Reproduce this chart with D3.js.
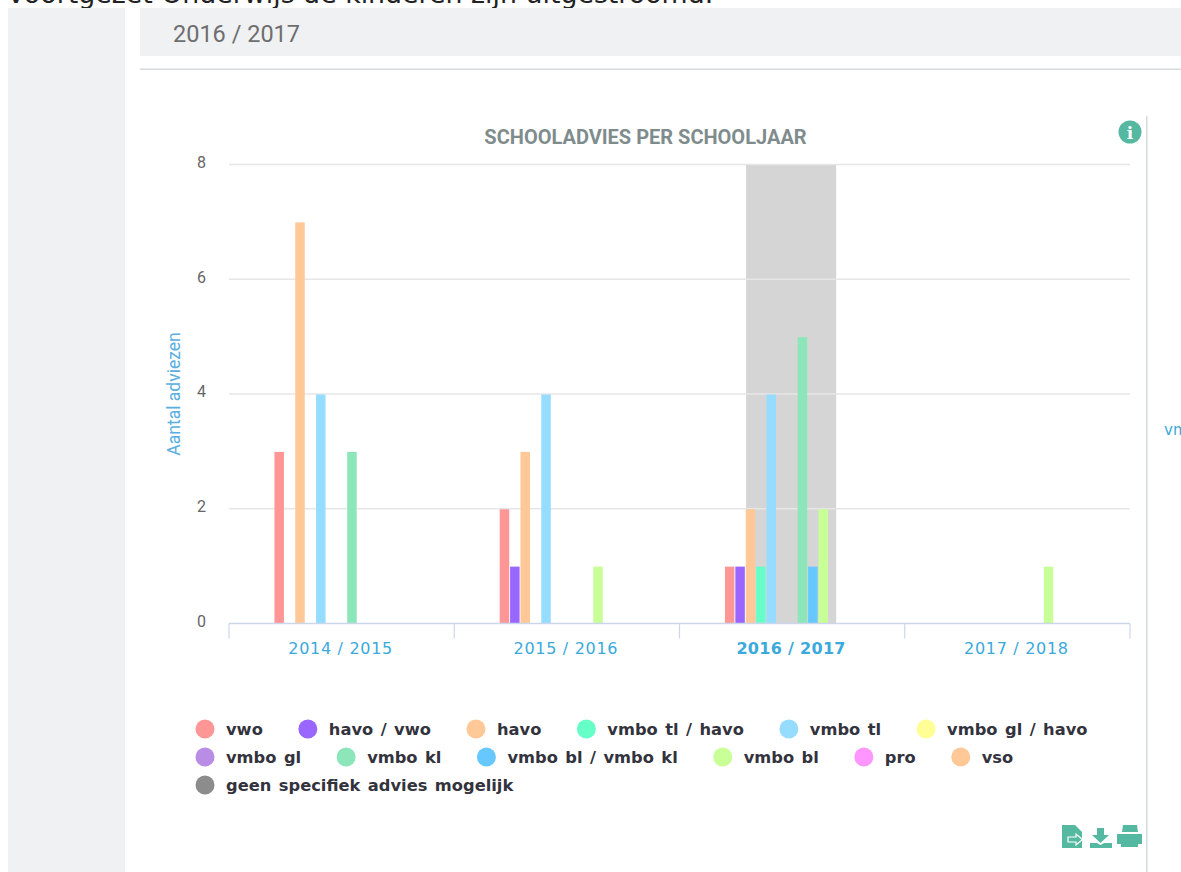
<!DOCTYPE html>
<html>
<head>
<meta charset="utf-8">
<script src="https://cdn.jsdelivr.net/npm/d3@7"></script>
<style>
  html, body { margin: 0; padding: 0; background: #fff; overflow: hidden; }
  svg { display: block; }
</style>
</head>
<body>
<svg id="chart" width="1181" height="872"></svg>
<script>
const schoolYears = ["2014 / 2015", "2015 / 2016", "2016 / 2017", "2017 / 2018"];
const selectedYear = "2016 / 2017";
const yTicks = [0, 2, 4, 6, 8];

const adviesNames = ["vwo", "havo / vwo", "havo", "vmbo tl / havo", "vmbo tl", "vmbo gl / havo",
  "vmbo gl", "vmbo kl", "vmbo bl / vmbo kl", "vmbo bl", "pro", "vso", "geen specifiek advies mogelijk"];
const adviesColors = ["#ff9696", "#9966ff", "#ffc896", "#66ffc8", "#96dcff", "#ffff96",
  "#b98ce6", "#8ce6b9", "#66c8ff", "#c8ff96", "#ff96ff", "#ffc896", "#8c8c8c"];

const vwo = [3, 2, 1, 0];
const havoVwo = [0, 1, 1, 0];
const havo = [7, 3, 2, 0];
const tlHavo = [0, 0, 1, 0];
const tl = [4, 4, 4, 0];
const glHavo = [0, 0, 0, 0];
const gl = [0, 0, 0, 0];
const kl = [3, 0, 5, 0];
const blKl = [0, 0, 1, 0];
const bl = [0, 1, 2, 1];
const pro = [0, 0, 0, 0];
const vso = [0, 0, 0, 0];
const geen = [0, 0, 0, 0];
const adviesValues = [vwo, havoVwo, havo, tlHavo, tl, glHavo, gl, kl, blKl, bl, pro, vso, geen];

const legendRows = [6, 6, 1];

const svg = d3.select("#chart");

// page furniture around the chart
svg.append("text").attr("x", 8).attr("y", 3)
  .style("font", "26.8px 'DejaVu Sans'").attr("fill", "#222")
  .text("voortgezet Onderwijs de kinderen zijn uitgestroomd.");
svg.append("rect").attr("x", 8).attr("y", 8).attr("width", 117).attr("height", 864).attr("fill", "#f0f1f3");
svg.append("rect").attr("x", 140).attr("y", 8).attr("width", 1041).attr("height", 48).attr("fill", "#f0f1f3");
svg.append("text").attr("x", 173).attr("y", 42)
  .style("font", "23.5px Roboto").attr("fill", "#6e6e6e").text(selectedYear);
svg.append("rect").attr("x", 140).attr("y", 68.5).attr("width", 1041).attr("height", 1.5).attr("fill", "#d5d9dd");
svg.append("rect").attr("x", 1146).attr("y", 116).attr("width", 1.5).attr("height", 756).attr("fill", "#d3d9e0");
svg.append("text").attr("x", 1164).attr("y", 435)
  .style("font", "15px 'DejaVu Sans'").attr("fill", "#3aa9dc").text("vmbo tl");

// scales
const x = d3.scaleBand().domain(schoolYears).range([229, 1130]);
const groupPad = x.bandwidth() * 0.2;
const xSeries = d3.scaleBand().domain(adviesNames)
  .range([groupPad, x.bandwidth() - groupPad]);
const y = d3.scaleLinear().domain([0, 8]).range([624, 165]);

// highlighted year
const bandWidth = x.bandwidth() * 0.4;
svg.append("rect")
  .attr("x", x(selectedYear) + x.bandwidth() / 2 - bandWidth / 2 - 1)
  .attr("y", y(8) - 1).attr("width", bandWidth).attr("height", y(0) - y(8) + 1)
  .attr("fill", "#d5d5d5");

// grid and y axis
const yAxis = svg.append("g").attr("transform", "translate(229,0)")
  .call(d3.axisLeft(y).tickValues(yTicks).tickSize(0).tickPadding(23));
yAxis.select(".domain").remove();
yAxis.selectAll("text").style("font", "16px Roboto").attr("fill", "#666").attr("dy", "0.15em");
svg.append("g").selectAll("line").data(yTicks.filter(d => d > 0)).enter().append("line")
  .attr("x1", 229).attr("x2", 1130)
  .attr("y1", d => y(d) - 0.5).attr("y2", d => y(d) - 0.5)
  .attr("stroke", "#e6e6e6").attr("stroke-width", 1.5);

// bars
const seriesG = svg.append("g").selectAll("g").data(adviesNames).enter().append("g")
  .attr("fill", (d, i) => adviesColors[i]);
seriesG.selectAll("rect")
  .data((name, i) => adviesValues[i].map((v, j) => ({ name: name, year: schoolYears[j], value: v })).filter(d => d.value > 0))
  .enter().append("rect")
  .attr("x", d => x(d.year) + xSeries(d.name) + 0.4)
  .attr("y", d => y(d.value))
  .attr("width", xSeries.bandwidth() - 0.9)
  .attr("height", d => y(0) - y(d.value));

// x axis: ticks sit on the group edges
const xAxisG = svg.append("g").attr("transform", `translate(0,${y(0) - 0.5})`);
xAxisG.append("line").attr("x1", 229).attr("x2", 1130).attr("stroke", "#ccd6eb").attr("stroke-width", 1.5);
xAxisG.selectAll("line.tick")
  .data(schoolYears.map(d => x(d)).concat([x.range()[1]]))
  .enter().append("line").attr("class", "tick")
  .attr("x1", d => d).attr("x2", d => d).attr("y1", 0).attr("y2", 15)
  .attr("stroke", "#ccd6eb").attr("stroke-width", 1.2);
xAxisG.selectAll("text").data(schoolYears).enter().append("text")
  .attr("x", d => x(d) + x.bandwidth() / 2 - 1)
  .attr("y", 30)
  .attr("text-anchor", "middle")
  .style("font", d => d === selectedYear ? "bold 16px 'DejaVu Sans'" : "16px 'DejaVu Sans'")
  .style("letter-spacing", d => d === selectedYear ? "0.3px" : "0.7px")
  .attr("fill", "#3aa9dc")
  .text(d => d);

// titles
svg.append("text").attr("x", 645.5).attr("y", 144).attr("text-anchor", "middle")
  .style("font", "bold 20px Roboto").attr("fill", "#7f8c8d").text("SCHOOLADVIES PER SCHOOLJAAR");
svg.append("text").attr("transform", "translate(180,394) rotate(-90)").attr("text-anchor", "middle")
  .style("font", "17.5px Roboto").attr("fill", "#5aaee0").text("Aantal adviezen");

// legend, flowed item by item
let legendIndex = 0;
legendRows.forEach((count, row) => {
  let cx = 205;
  const cy = 729 + row * 28;
  adviesNames.slice(legendIndex, legendIndex + count).forEach((name, i) => {
    svg.append("circle").attr("cx", cx).attr("cy", cy).attr("r", 9.5)
      .attr("fill", adviesColors[legendIndex + i]);
    const label = svg.append("text").attr("x", cx + 21).attr("y", cy + 6)
      .style("font", "bold 16.3px 'DejaVu Sans'").style("word-spacing", "1.8px")
      .attr("fill", "#33333d").text(name);
    cx += 21 + label.node().getComputedTextLength() + 45;
  });
  legendIndex += count;
});

// info and export icons
const iconColor = "#55b8a0";
svg.append("circle").attr("cx", 1130).attr("cy", 132).attr("r", 11.5).attr("fill", iconColor);
svg.append("text").attr("x", 1130).attr("y", 139).attr("text-anchor", "middle")
  .style("font", "bold 17px 'DejaVu Serif'").attr("fill", "#fff").text("i");
svg.append("path").attr("fill", iconColor)
  .attr("d", "M1062 825h13l7 7v16h-20z");
svg.append("path").attr("fill", iconColor).attr("stroke", "#fff").attr("stroke-width", 1.2)
  .attr("d", "M1068 837h8v-3l6.500 5.500-6.500 5.500v-3h-8z");
svg.append("path").attr("fill", iconColor)
  .attr("d", "M1097 828h7v7h5l-8.500 8-8.500-8h5zM1090 843h7l3.500 2 3.500-2h8v5h-22z");
svg.append("path").attr("fill", iconColor)
  .attr("d", "M1123 825h14l1 7h-16zM1117 834h25v10h-4v3h-17v-3h-4z");
</script>
</body>
</html>
